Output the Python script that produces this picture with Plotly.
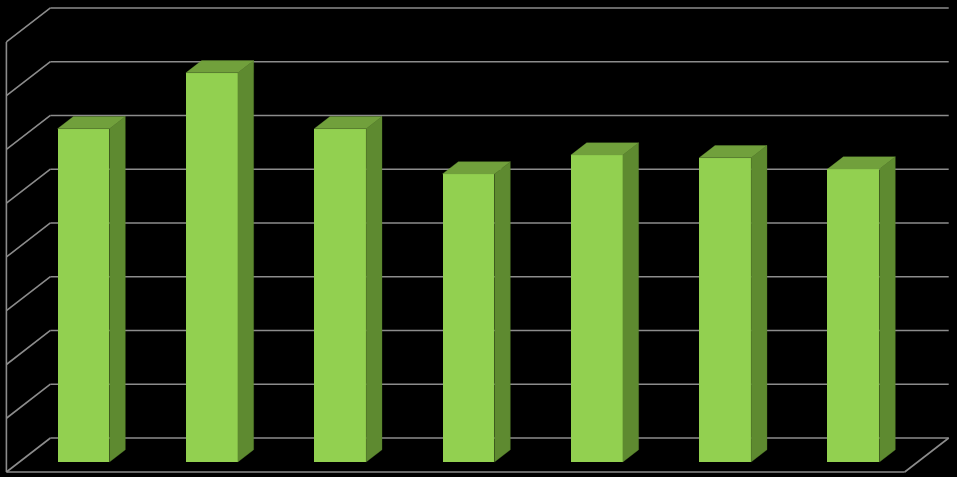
import plotly.graph_objects as go

categories = ["1", "2", "3", "4", "5", "6", "7"]
values = [6.2, 7.24, 6.2, 5.36, 5.71, 5.66, 5.45]
gridlines = [0, 1, 2, 3, 4, 5, 6, 7, 8]

FRONT = "#92D050"
TOP = "#71A03C"
SIDE = "#5E8A30"
GRID = "#8C8C8C"

n = len(categories)
xs = list(range(n))
bar_w = 0.405
# oblique projection: one unit of depth shifts (ddx, ddy) in data units
ddx, ddy = 0.3429, 0.6326
floor_front = -0.294   # depth of floor front edge relative to bar fronts
bar_depth = 0.36
back_wall = 0.706
x_lo, x_hi = -0.5, n - 0.5


def P(x, v, d):
    return x + d * ddx, v + d * ddy


fig = go.Figure()
shapes = []


def seg(a, b):
    shapes.append(dict(type="line", xref="x", yref="y", x0=a[0], y0=a[1], x1=b[0], y1=b[1],
                       line=dict(color=GRID, width=1.6), layer="below"))


# back wall gridlines and side wall diagonals
for k in gridlines:
    seg(P(x_lo, k, back_wall), P(x_hi, k, back_wall))
    seg(P(x_lo, k, floor_front), P(x_lo, k, back_wall))
# left wall front vertical edge
seg(P(x_lo, gridlines[0], floor_front), P(x_lo, gridlines[-1], floor_front))
# floor front edge and right edge
seg(P(x_lo, 0, floor_front), P(x_hi, 0, floor_front))
seg(P(x_hi, 0, floor_front), P(x_hi, 0, back_wall))

# front faces
fig.add_trace(go.Bar(x=xs, y=values, width=bar_w, marker=dict(color=FRONT, line=dict(width=0)),
                     hovertext=categories, showlegend=False))

# side & top faces
for x, v in zip(xs, values):
    l, r = x - bar_w / 2, x + bar_w / 2
    side = [P(r, 0, 0), P(r, 0, bar_depth), P(r, v, bar_depth), P(r, v, 0), P(r, 0, 0)]
    top = [P(l, v, 0), P(r, v, 0), P(r, v, bar_depth), P(l, v, bar_depth), P(l, v, 0)]
    for poly, col in ((side, SIDE), (top, TOP)):
        fig.add_trace(go.Scatter(x=[p[0] for p in poly], y=[p[1] for p in poly], mode="lines",
                                 fill="toself", fillcolor=col, line=dict(width=0.3, color=col),
                                 hoverinfo="skip", showlegend=False))

fig.update_layout(
    width=957, height=477,
    margin=dict(l=0, r=0, t=0, b=0),
    paper_bgcolor="black", plot_bgcolor="black",
    shapes=shapes,
    bargap=0,
    xaxis=dict(range=[-0.6507, 6.8067], visible=False, fixedrange=True),
    yaxis=dict(range=[-0.279, 8.595], visible=False, fixedrange=True),
)

fig.write_html("out.html", config={"displayModeBar": False},
               post_script="document.body.style.margin='0';document.body.style.background='black';")
